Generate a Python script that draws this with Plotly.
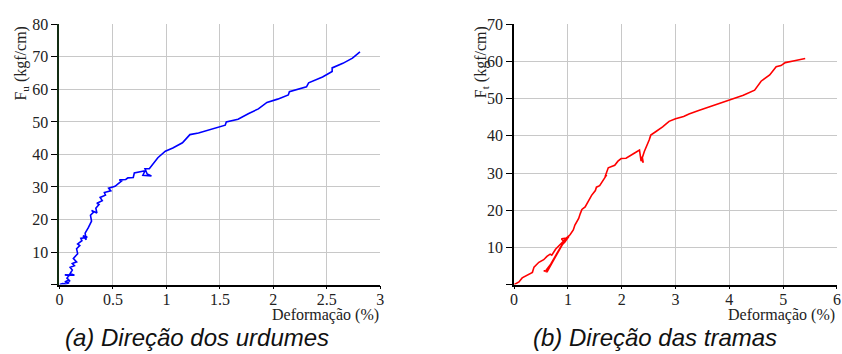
import plotly.graph_objects as go

# ---- Data: (a) Direção dos urdumes ----
urd_x = [0.0, 0.03, 0.06, 0.09, 0.05, 0.08, 0.10, 0.07, 0.09, 0.05, 0.14, 0.10, 0.12, 0.10, 0.14,
         0.12, 0.16, 0.13, 0.17, 0.16, 0.19, 0.17, 0.21, 0.20, 0.26, 0.22, 0.25, 0.24, 0.27, 0.29,
         0.30, 0.29, 0.32, 0.30, 0.35, 0.34, 0.37, 0.35, 0.40, 0.38, 0.43, 0.42, 0.48, 0.46, 0.52,
         0.55, 0.58, 0.56, 0.62, 0.64, 0.69, 0.70, 0.76, 0.80, 0.78, 0.86, 0.82, 0.80, 0.84, 0.88,
         0.92, 0.99, 1.06, 1.15, 1.22, 1.30, 1.41, 1.55, 1.56, 1.67, 1.77, 1.86, 1.94, 2.04, 2.14,
         2.15, 2.31, 2.33, 2.46, 2.55, 2.55, 2.65, 2.74, 2.81]
urd_y = [0.0, 0.3, 0.2, 0.6, 0.8, 1.3, 1.0, 2.0, 2.8, 3.0, 2.9, 3.4, 4.5, 5.3, 5.8,
         6.5, 7.0, 8.0, 9.5, 11.0, 12.0, 12.5, 13.5, 14.2, 14.6, 15.0, 13.8, 15.8, 17.5, 18.8,
         19.5, 21.3, 22.3, 22.8, 22.0, 23.5, 24.6, 25.0, 25.8, 26.8, 27.5, 28.3, 28.8, 29.6, 30.2,
         31.0, 31.8, 32.2, 32.3, 32.8, 32.9, 34.3, 34.8, 35.0, 33.6, 33.4, 34.0, 35.6, 35.6, 37.2,
         39.0, 41.0, 42.0, 43.6, 46.1, 46.6, 47.6, 49.0, 50.0, 50.8, 52.6, 54.0, 56.0, 57.0, 58.3,
         59.3, 60.8, 62.0, 63.8, 65.5, 66.6, 68.0, 69.6, 71.5]

# ---- Data: (b) Direção das tramas ----
tra_x = [0.0, 0.05, 0.09, 0.15, 0.28, 0.34, 0.37, 0.46, 0.55, 0.61, 0.67, 0.70, 0.77, 0.86, 0.92,
         0.88, 0.98, 0.93, 1.02, 0.90, 0.75, 0.65, 0.62, 0.55, 0.62, 0.60, 0.68, 0.80, 0.90, 0.96,
         1.04, 1.10, 1.13, 1.20, 1.23, 1.26, 1.32, 1.38, 1.44, 1.51, 1.53, 1.59, 1.65, 1.69, 1.72,
         1.69, 1.75, 1.81, 1.87, 1.93, 1.99, 2.08, 2.15, 2.24, 2.33, 2.36, 2.38, 2.40, 2.37, 2.42,
         2.51, 2.54, 2.63, 2.76, 2.88, 3.00, 3.15, 3.25, 3.43, 3.74, 4.00, 4.26, 4.47, 4.53, 4.59,
         4.75, 4.87, 4.96, 5.04, 5.21, 5.41]
tra_y = [0.0, 0.3, 0.7, 1.8, 2.7, 3.3, 4.7, 6.0, 6.7, 7.6, 8.2, 7.9, 9.5, 10.8, 11.7,
         12.3, 12.5, 11.2, 13.0, 10.8, 7.0, 4.2, 3.6, 3.7, 3.4, 4.0, 5.5, 8.5, 11.0, 12.4,
         13.4, 14.7, 16.0, 17.8, 19.1, 20.2, 20.9, 22.6, 24.0, 25.3, 26.2, 26.6, 27.9, 28.9, 29.5,
         29.0, 31.4, 31.8, 32.1, 33.2, 33.9, 34.0, 34.7, 35.4, 36.2, 33.2, 34.4, 32.8, 33.6, 35.8,
         38.9, 40.2, 41.1, 42.4, 43.9, 44.6, 45.2, 45.9, 46.8, 48.3, 49.6, 50.9, 52.3, 53.5, 54.7,
         56.4, 58.6, 58.9, 59.7, 60.2, 60.8]

urd_xticks = [0, 0.5, 1, 1.5, 2, 2.5, 3]
urd_xtext = ["0", "0.5", "1", "1.5", "2", "2.5", "3"]
urd_yticks = [0, 10, 20, 30, 40, 50, 60, 70, 80]
urd_ytext = ["", "10", "20", "30", "40", "50", "60", "70", "80"]
tra_xticks = [0, 1, 2, 3, 4, 5, 6]
tra_xtext = ["0", "1", "2", "3", "4", "5", "6"]
tra_yticks = [0, 10, 20, 30, 40, 50, 60, 70]
tra_ytext = ["", "10", "20", "30", "40", "50", "60", "70"]

W, H = 842, 354
fig = go.Figure()
fig.add_trace(go.Scatter(x=urd_x, y=urd_y, mode="lines", line=dict(color="#0000ff", width=1.6),
                         xaxis="x", yaxis="y", showlegend=False))
fig.add_trace(go.Scatter(x=tra_x, y=tra_y, mode="lines", line=dict(color="#ff0000", width=1.6),
                         xaxis="x2", yaxis="y2", showlegend=False))

serif = dict(family="Liberation Serif", size=16, color="#222222")
grid = "#c8c8c8"
ydom = [(H - 283) / H, (H - 16.5) / H]

common_x = dict(showgrid=True, gridcolor=grid, gridwidth=1, zeroline=False, showline=True,
                linecolor="black", linewidth=1.5, ticks="outside", ticklen=3, tickcolor="black",
                tickfont=serif, tickmode="array", fixedrange=True, ticklabelstandoff=-4)
common_y = dict(showgrid=True, gridcolor=grid, gridwidth=1, zeroline=False, showline=True,
                linewidth=2, ticks="outside", ticklen=6, tickcolor="black",
                tickfont=serif, tickmode="array", fixedrange=True)

fig.update_layout(
    width=W, height=H, margin=dict(l=0, r=0, t=0, b=0),
    paper_bgcolor="white", plot_bgcolor="white",
    xaxis=dict(domain=[56 / W, 380 / W], range=[0, 3.001], tickvals=urd_xticks, ticktext=urd_xtext,
               anchor="y", **common_x),
    yaxis=dict(domain=ydom, range=[0, 80.05], tickvals=urd_yticks, ticktext=urd_ytext,
               anchor="x", linecolor="#132d13", **common_y),
    xaxis2=dict(domain=[515 / W, 841 / W], range=[0, 6.001], tickvals=tra_xticks, ticktext=tra_xtext,
                anchor="y2", **common_x),
    yaxis2=dict(domain=ydom, range=[0, 70.05], tickvals=tra_yticks, ticktext=tra_ytext,
                anchor="x2", linecolor="black", **common_y),
)

ann = []
ann.append(dict(text="Deformação (%)", xref="paper", yref="paper", x=381 / W, y=(H - 314) / H,
                xanchor="right", yanchor="middle", showarrow=False, font=serif))
ann.append(dict(text="Deformação (%)", xref="paper", yref="paper", x=841 / W, y=(H - 314) / H,
                xanchor="right", yanchor="middle", showarrow=False, font=serif))
ann.append(dict(text="F<sub>u</sub> (kgf/cm)", xref="paper", yref="paper", x=18 / W, y=(H - 57) / H,
                xanchor="center", yanchor="middle", textangle=-90, showarrow=False, font=serif))
ann.append(dict(text="F<sub>t</sub> (kgf/cm)", xref="paper", yref="paper", x=482 / W, y=(H - 55) / H,
                xanchor="center", yanchor="middle", textangle=-90, showarrow=False, font=serif))
cap = dict(family="Liberation Sans", size=24, color="#111111")
ann.append(dict(text="<i>(a) Direção dos urdumes</i>", xref="paper", yref="paper", x=195 / W,
                y=(H - 337) / H, xanchor="center", yanchor="middle", showarrow=False, font=cap))
ann.append(dict(text="<i>(b) Direção das tramas</i>", xref="paper", yref="paper", x=657 / W,
                y=(H - 337) / H, xanchor="center", yanchor="middle", showarrow=False, font=cap))
fig.update_layout(annotations=ann)

fig.write_html("out.html")
